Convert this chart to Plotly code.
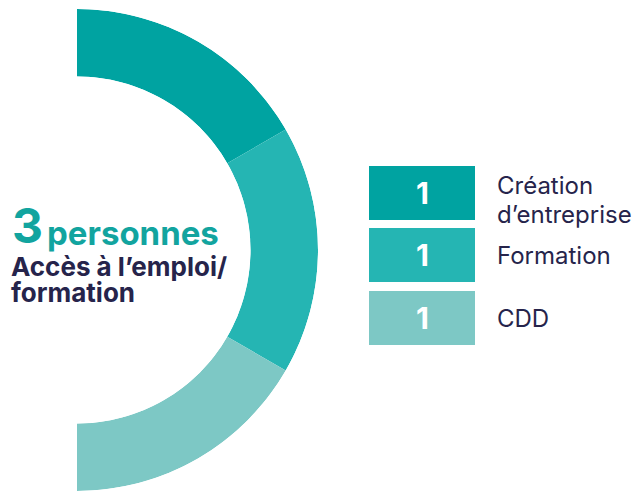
import plotly.graph_objects as go

# Data
categories = ["Création<br>d\u2019entreprise", "Formation", "CDD"]
values = [1, 1, 1]
colors = ["#00A3A1", "#25B5B3", "#7DC8C5"]
total_label = "personnes"
subtitle = "Accès à l\u2019emploi/<br>formation"

# page body has an 8px margin, so the figure is drawn inside the rest of the window
OFF = 8
W, H = 640 - OFF, 491 - OFF
teal_text = "#12A49F"
navy = "#26244B"
font = "Inter"

total = sum(values)
# each slice spans a share of the right half (180 degrees), clockwise from top
spans = [180 * v / total for v in values]
thetas = []
start = 0
for s in spans:
    thetas.append(start + s / 2)
    start += s

fig = go.Figure()
fig.add_trace(
    go.Barpolar(
        r=[1] * len(values),
        theta=thetas,
        width=spans,
        marker=dict(color=colors, line=dict(width=0)),
        hoverinfo="skip",
        showlegend=False,
    )
)


# screen pixel -> paper coordinates
def px(x):
    return (x - OFF) / W


def py(y):
    return 1 - (y - OFF) / H


def label(x, y, text, size, color, bold=False, anchor="left"):
    return dict(
        x=px(x), y=py(y), xref="paper", yref="paper",
        text=f"<b>{text}</b>" if bold else text, showarrow=False,
        font=dict(family=font, size=size, color=color),
        xanchor=anchor, yanchor="middle", align="left",
    )


# Legend boxes with counts
box_left, box_right = 369, 475
box_tops = [166, 228, 291]
box_h = 54
line_gap = 28
shapes = []
annotations = []
for i, (cat, val, col) in enumerate(zip(categories, values, colors)):
    top = box_tops[i]
    mid = top + box_h / 2
    shapes.append(dict(
        type="rect", xref="paper", yref="paper",
        x0=px(box_left), x1=px(box_right), y0=py(top + box_h), y1=py(top),
        fillcolor=col, line=dict(width=0), layer="above",
    ))
    annotations.append(label((box_left + box_right) / 2, mid, val, 30,
                             "white", bold=True, anchor="center"))
    lines = cat.split("<br>")
    y0 = mid - 7 if len(lines) > 1 else mid
    for k, line in enumerate(lines):
        annotations.append(label(495, y0 + k * line_gap, line, 24, navy))

# Centre text
annotations.append(label(10, 225, total, 48, teal_text, bold=True))
annotations.append(label(45, 233, total_label, 33, teal_text, bold=True))
for k, line in enumerate(subtitle.split("<br>")):
    annotations.append(label(9, 266 + k * 26, line, 26, navy, bold=True))

# half donut: centre at (77, 251), outer radius 241
fig.update_layout(
    width=W, height=H,
    margin=dict(l=0, r=0, t=0, b=0),
    paper_bgcolor="white",
    plot_bgcolor="white",
    polar=dict(
        domain=dict(x=[px(77), px(318)], y=[0, py(9)]),
        sector=[-90, 90],
        hole=0.72,
        bgcolor="white",
        bargap=0,
        radialaxis=dict(visible=False, range=[0, 1]),
        angularaxis=dict(visible=False, rotation=90, direction="clockwise"),
    ),
    shapes=shapes,
    annotations=annotations,
)

fig.write_html("out.html")
